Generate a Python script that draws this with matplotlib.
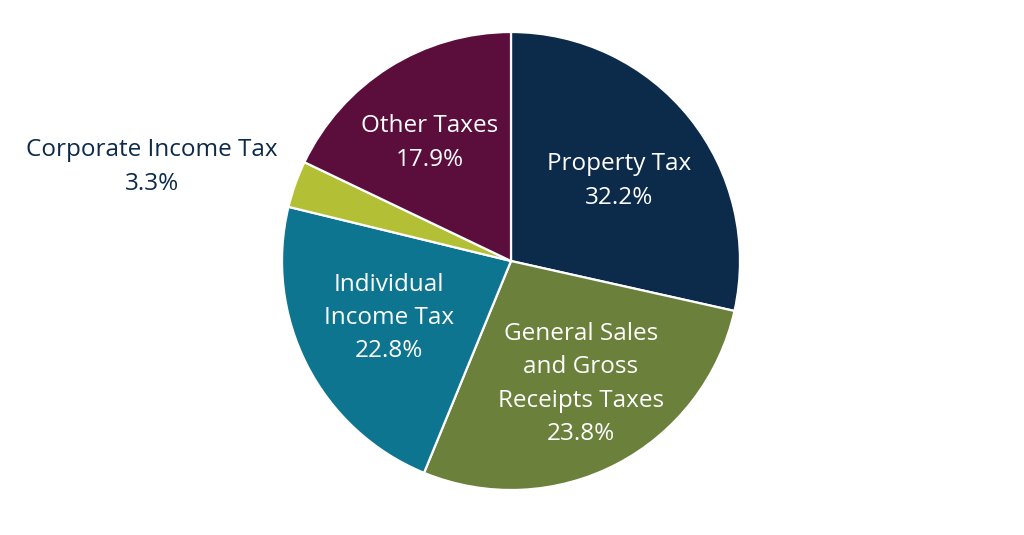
import matplotlib
matplotlib.use("Agg")
import matplotlib.pyplot as plt

categories = ["Property Tax", "General Sales and Gross Receipts Taxes",
              "Individual Income Tax", "Corporate Income Tax", "Other Taxes"]
display_labels = ["Property Tax", "General Sales\nand Gross\nReceipts Taxes",
                  "Individual\nIncome Tax", "Corporate Income Tax", "Other Taxes"]
# percentages printed in the labels
label_values = [32.2, 23.8, 22.8, 3.3, 17.9]
# wedge sizes as drawn in the picture (angles)
wedge_values = [28.5, 27.7, 22.6, 3.3, 17.9]
colors = ["#0c2a4a", "#6a803b", "#0e7590", "#b3bf35", "#5b0e3c"]

W, H = 1024, 535
fig = plt.figure(figsize=(W / 100, H / 100), dpi=100)
ax = fig.add_axes([0, 0, 1, 1])

cx, cy, r = 511, H - 261, 229
ax.pie(wedge_values, colors=colors, startangle=90, counterclock=False,
       center=(cx, cy), radius=r,
       wedgeprops=dict(edgecolor="white", linewidth=1.6))
ax.set_xlim(0, W)
ax.set_ylim(0, H)
ax.set_aspect("equal")
ax.axis("off")

# label positions (pixel coords from top-left)
label_pos = [(619, 181), (581, 384), (389, 318), (152, 167), (430, 143)]
text_colors = ["white", "white", "white", "#0c2a4a", "white"]
for lab, v, (px, py), tc in zip(display_labels, label_values, label_pos, text_colors):
    ax.text(px, H - py, f"{lab}\n{v:.1f}%", ha="center", va="center",
            color=tc, fontsize=17.5, family="Open Sans", linespacing=1.52)

fig.savefig("out.png", dpi=100)
